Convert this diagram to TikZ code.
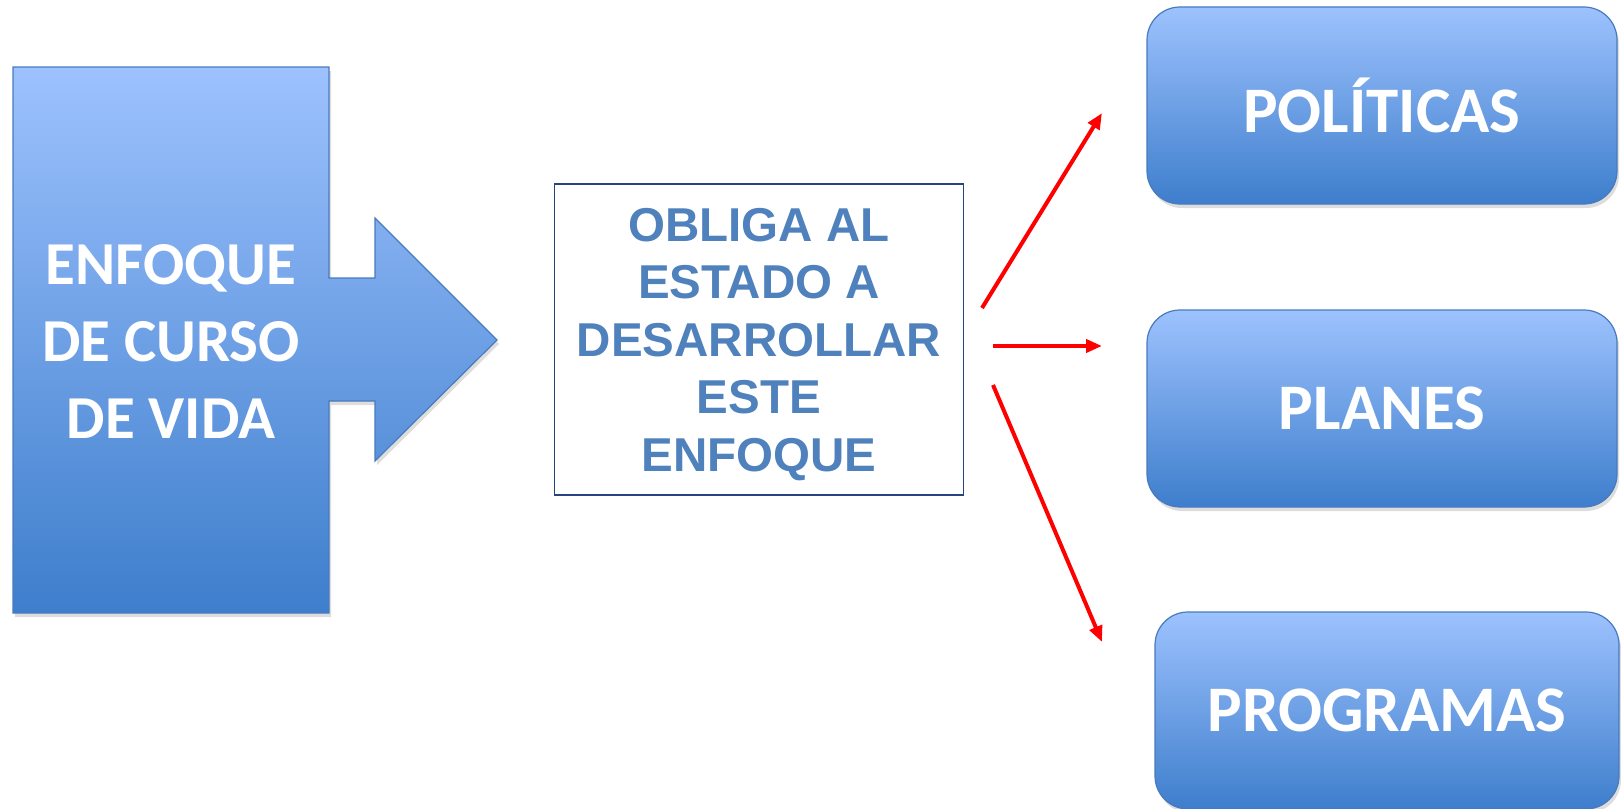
\documentclass[tikz,border=0pt]{standalone}
\usepackage{fontspec}
\newfontfamily\carlito{Carlito}[BoldFont={* Bold}]
\newfontfamily\arialf{Liberation Sans}
\usetikzlibrary{arrows.meta,shadows}
\definecolor{gtop}{RGB}{157,194,254}
\definecolor{gbot}{RGB}{62,126,204}
\definecolor{gline}{RGB}{72,122,190}
\definecolor{midline}{RGB}{38,68,125}
\definecolor{midtext}{RGB}{79,129,189}
\definecolor{redarrow}{RGB}{255,0,0}
\tikzset{
  gradfill/.style={top color=gtop, bottom color=gbot, draw=gline, line width=1.2pt},
  softshadow/.style={drop shadow={shadow xshift=2pt, shadow yshift=-4pt, opacity=0.22, fill=black!60}},
  rbox/.style={gradfill, softshadow, rounded corners=33pt, minimum width=470pt, minimum height=197pt,
    font=\carlito\bfseries\fontsize{65}{78}\selectfont, text=white, inner sep=0pt},
  lefttext/.style={font=\carlito\bfseries\fontsize{61}{77}\selectfont, text=white, align=center, inner sep=0pt},
  midbox/.style={draw=midline, line width=1.8pt, fill=white, minimum width=409pt, minimum height=311pt,
    font=\arialf\bfseries\fontsize{47.5}{57.4}\selectfont, text=midtext, align=center, inner sep=0pt},
  redarr/.style={draw=redarrow, line width=4pt, -{Triangle[length=16pt,width=13pt]}}
}
\begin{document}
\begin{tikzpicture}[x=1pt,y=-1pt]
\useasboundingbox (0,0) rectangle (1621,808);
% left callout arrow shape
\path[gradfill, softshadow] (13,67) -- (329,67) -- (329,278) -- (375,278) -- (375,218) -- (497,340)
  -- (375,461) -- (375,401) -- (329,401) -- (329,613) -- (13,613) -- cycle;
\node[lefttext] (enf) at (171,341) {ENFOQUE\\DE CURSO\\DE VIDA};
% middle box
\node[midbox] (mid) at (759,339.5) {\rule{0pt}{43pt}OBLIGA AL\\ESTADO A\\DESARROLLAR\\ESTE\\ENFOQUE};
% right boxes
\node[rbox] (pol) at (1382,105.5) {POLÍTICAS};
\node[rbox] (pla) at (1382,408.5) {PLANES};
\node[rbox, minimum width=464pt] (pro) at (1387,710.5) {PROGRAMAS};
% arrows
\coordinate (s1) at (982,308); \coordinate (e1) at (1102,113);
\coordinate (s2) at (993,346); \coordinate (e2) at (1102,346);
\coordinate (s3) at (993,385); \coordinate (e3) at (1102,642);
\draw[redarr] (s1) -- (e1);
\draw[redarr] (s2) -- (e2);
\draw[redarr] (s3) -- (e3);
\end{tikzpicture}
\end{document}
